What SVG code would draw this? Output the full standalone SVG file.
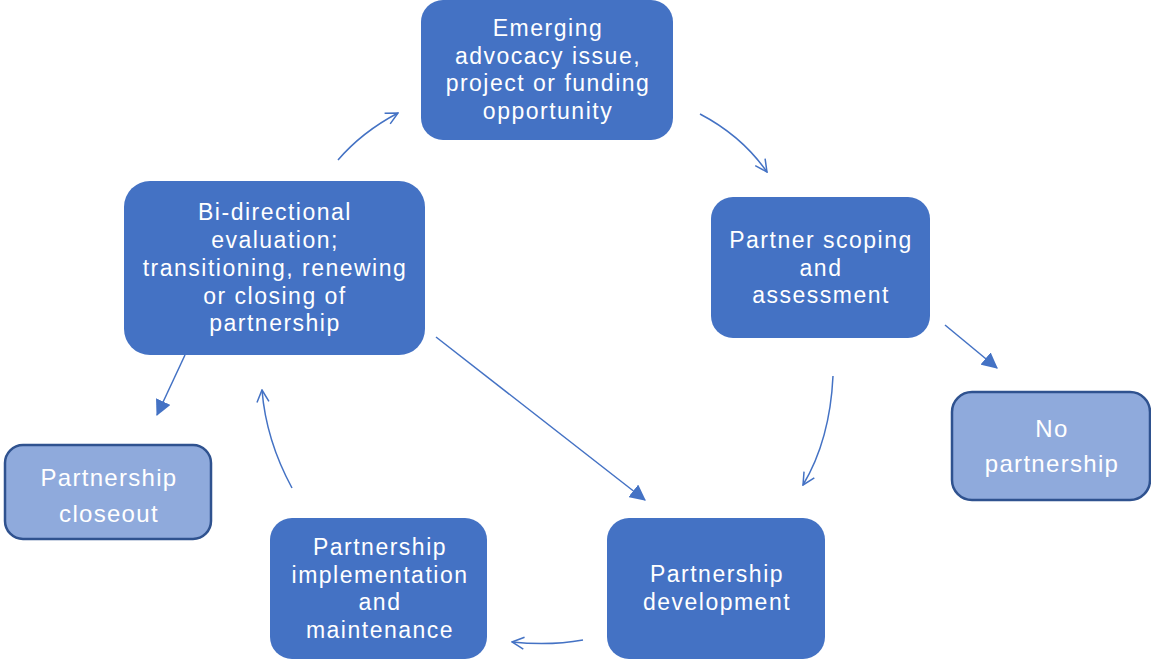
<svg xmlns="http://www.w3.org/2000/svg" width="1151" height="659" viewBox="0 0 1151 659">
  <defs>
    <style>
      .box { fill: #4472C4; }
      .soft { fill: #8FAADC; stroke: #2F528F; stroke-width: 2.5; }
      .lbl { font-family: "Liberation Sans", Arial, sans-serif; font-size: 23px; letter-spacing: 1.5px; fill: #FFFFFF; text-anchor: middle; }
      .big { font-size: 24px; letter-spacing: 1.3px; }
      .link { fill: none; stroke: #4472C4; stroke-width: 1.5; }
    </style>
    <marker id="openHead" viewBox="0 0 14 14" refX="13" refY="7" markerWidth="14" markerHeight="14" markerUnits="userSpaceOnUse" orient="auto">
      <path d="M1,1 L13,7 L1,13" fill="none" stroke="#4472C4" stroke-width="1.5"/>
    </marker>
    <marker id="solidHead" viewBox="0 0 14 14" refX="13" refY="7" markerWidth="16" markerHeight="16" markerUnits="userSpaceOnUse" orient="auto">
      <path d="M0,0 L14,7 L0,14 Z" fill="#4472C4"/>
    </marker>
  </defs>

  <rect width="1151" height="659" fill="#FFFFFF"/>

  <!-- connectors -->
  <g id="connectors">
    <path class="link" d="M338,160 Q362,132 398,113" marker-end="url(#openHead)"/>
    <path class="link" d="M700,114 Q742,136 767,172" marker-end="url(#openHead)"/>
    <path class="link" d="M833,376 Q830,440 803,485" marker-end="url(#openHead)"/>
    <path class="link" d="M945,325 L997,368" marker-end="url(#solidHead)"/>
    <path class="link" d="M436,337 L645,500" marker-end="url(#solidHead)"/>
    <path class="link" d="M185,355 L157,415" marker-end="url(#solidHead)"/>
    <path class="link" d="M583,640 Q550,646 512,642" marker-end="url(#openHead)"/>
    <path class="link" d="M292,488 Q266,440 262,390" marker-end="url(#openHead)"/>
  </g>

  <g id="node-emerging">
    <rect class="box" x="421" y="0" width="252" height="140" rx="22"/>
    <text class="lbl" x="548" y="36">Emerging</text>
    <text class="lbl" x="548" y="64">advocacy issue,</text>
    <text class="lbl" x="548" y="91">project or funding</text>
    <text class="lbl" x="548" y="119">opportunity</text>
  </g>

  <g id="node-scoping">
    <rect class="box" x="711" y="197" width="219" height="141" rx="22"/>
    <text class="lbl" x="821" y="248">Partner scoping</text>
    <text class="lbl" x="821" y="276">and</text>
    <text class="lbl" x="821" y="303">assessment</text>
  </g>

  <g id="node-no-partnership">
    <rect class="soft" x="952" y="392" width="198" height="108" rx="20"/>
    <text class="lbl big" x="1052" y="437">No</text>
    <text class="lbl big" x="1052" y="472">partnership</text>
  </g>

  <g id="node-development">
    <rect class="box" x="607" y="518" width="218" height="141" rx="22"/>
    <text class="lbl" x="717" y="582">Partnership</text>
    <text class="lbl" x="717" y="610">development</text>
  </g>

  <g id="node-implementation">
    <rect class="box" x="270" y="518" width="217" height="141" rx="22"/>
    <text class="lbl" x="380" y="555">Partnership</text>
    <text class="lbl" x="380" y="583">implementation</text>
    <text class="lbl" x="380" y="610">and</text>
    <text class="lbl" x="380" y="638">maintenance</text>
  </g>

  <g id="node-closeout">
    <rect class="soft" x="5" y="445" width="206" height="94" rx="18"/>
    <text class="lbl big" x="109" y="486">Partnership</text>
    <text class="lbl big" x="109" y="522">closeout</text>
  </g>

  <g id="node-evaluation">
    <rect class="box" x="124" y="181" width="301" height="174" rx="26"/>
    <text class="lbl" x="275" y="220">Bi-directional</text>
    <text class="lbl" x="275" y="248">evaluation;</text>
    <text class="lbl" x="275" y="276">transitioning, renewing</text>
    <text class="lbl" x="275" y="304">or closing of</text>
    <text class="lbl" x="275" y="331">partnership</text>
  </g>
</svg>
